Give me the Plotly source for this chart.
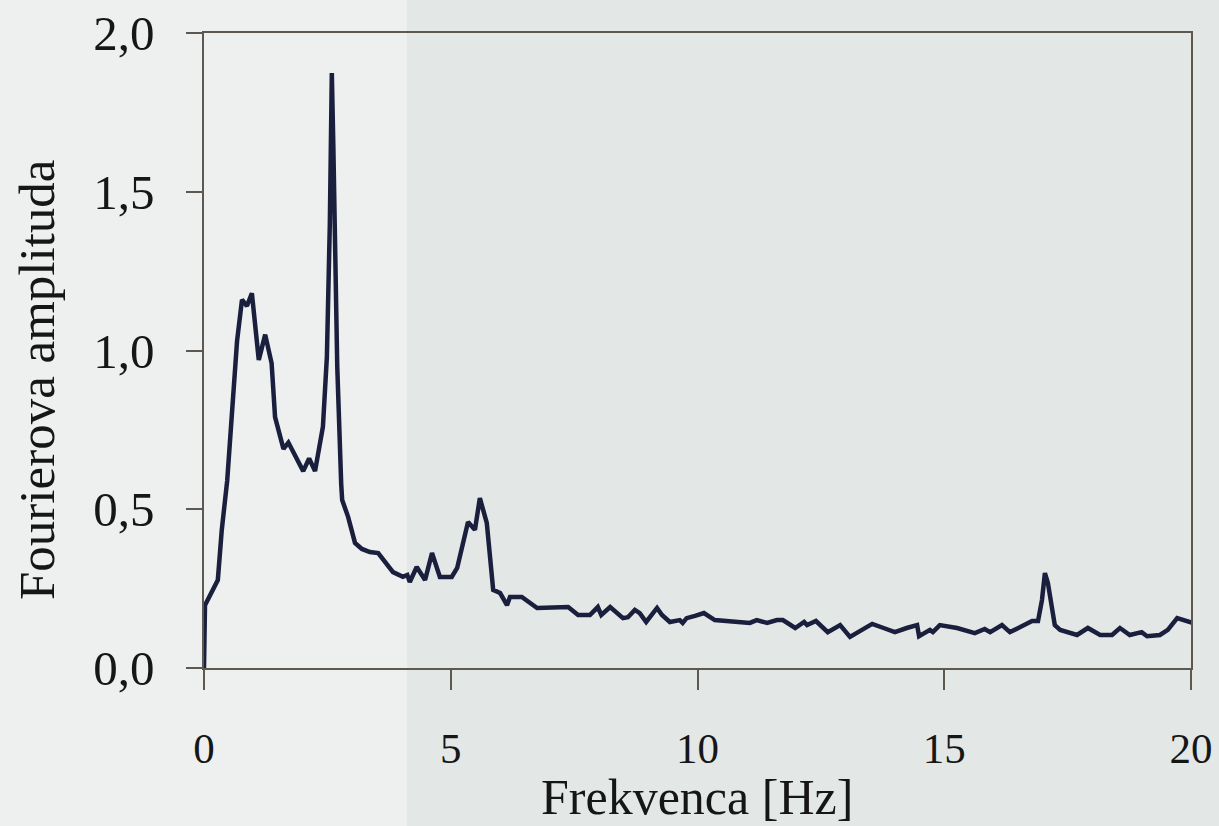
import plotly.graph_objects as go

# Frequency [Hz] and Fourier amplitude
freq = [0.0, 0.02, 0.28, 0.36, 0.47, 0.56, 0.67, 0.77, 0.87, 0.97, 1.0, 1.11, 1.24, 1.37, 1.44,
        1.61, 1.71, 2.01, 2.13, 2.25, 2.41, 2.49, 2.55, 2.59, 2.62, 2.65, 2.70, 2.78, 2.80, 2.92,
        3.06, 3.20, 3.36, 3.53, 3.83, 4.03, 4.12, 4.17, 4.31, 4.48, 4.62, 4.78, 5.02, 5.13, 5.35,
        5.49, 5.59, 5.73, 5.86, 6.00, 6.14, 6.20, 6.44, 6.75, 7.38, 7.58, 7.82, 7.98, 8.05, 8.23,
        8.39, 8.49, 8.59, 8.73, 8.83, 8.96, 9.18, 9.28, 9.44, 9.64, 9.70, 9.78, 9.95, 10.13, 10.35,
        10.72, 10.86, 11.06, 11.20, 11.41, 11.61, 11.73, 11.98, 12.16, 12.22, 12.40, 12.64, 12.89,
        13.09, 13.54, 13.77, 14.00, 14.24, 14.45, 14.49, 14.71, 14.77, 14.91, 15.26, 15.62, 15.82,
        15.93, 16.17, 16.33, 16.58, 16.78, 16.90, 16.98, 17.04, 17.10, 17.24, 17.35, 17.69, 17.91,
        18.16, 18.40, 18.56, 18.76, 19.00, 19.11, 19.37, 19.53, 19.72, 19.88, 20.04]
amp = [0.0, 0.198, 0.277, 0.435, 0.59, 0.81, 1.03, 1.16, 1.14, 1.18, 1.14, 0.97, 1.05, 0.96, 0.79,
       0.69, 0.71, 0.62, 0.66, 0.62, 0.76, 0.98, 1.40, 1.874, 1.65, 1.30, 0.95, 0.58, 0.529, 0.476,
       0.394, 0.375, 0.365, 0.362, 0.302, 0.287, 0.293, 0.271, 0.318, 0.277, 0.362, 0.287, 0.287,
       0.315, 0.46, 0.435, 0.535, 0.457, 0.246, 0.236, 0.198, 0.224, 0.224, 0.189, 0.192, 0.167,
       0.167, 0.192, 0.167, 0.192, 0.173, 0.157, 0.160, 0.183, 0.173, 0.145, 0.189, 0.167, 0.145,
       0.151, 0.142, 0.157, 0.164, 0.173, 0.151, 0.145, 0.142, 0.142, 0.151, 0.142, 0.151, 0.151,
       0.126, 0.145, 0.135, 0.148, 0.113, 0.135, 0.098, 0.139, 0.126, 0.113, 0.126, 0.135, 0.100,
       0.120, 0.113, 0.135, 0.126, 0.110, 0.123, 0.113, 0.135, 0.113, 0.132, 0.148, 0.148, 0.214,
       0.299, 0.268, 0.135, 0.120, 0.104, 0.126, 0.104, 0.104, 0.126, 0.104, 0.113, 0.100, 0.104,
       0.120, 0.157, 0.148, 0.142]

x_tickvals = [0, 5, 10, 15, 20]
x_ticktext = ["0", "5", "10", "15", "20"]
y_tickvals = [0.0, 0.5, 1.0, 1.5, 2.0]
y_ticktext = ["0,0", "0,5", "1,0", "1,5", "2,0"]

W, H = 1219, 826
L, R, T, B = 204, 28, 33, 158
pw = W - L - R
ph = H - T - B

fig = go.Figure()
fig.add_trace(go.Scatter(x=freq, y=amp, mode="lines",
                         line=dict(color="#1b1f3e", width=4.5), hoverinfo="skip",
                         showlegend=False, cliponaxis=False))

font_fam = "Liberation Serif, Times New Roman, serif"
axis_col = "#5d5852"
txt_col = "#161616"

fig.update_layout(
    width=W, height=H,
    margin=dict(l=L, r=R, t=T, b=B, autoexpand=False),
    paper_bgcolor="#edf0ee",
    plot_bgcolor="rgba(0,0,0,0)",
    font=dict(family=font_fam, color=txt_col),
    xaxis=dict(range=[0, 20], tickvals=x_tickvals, ticktext=x_ticktext, automargin=False,
               showgrid=False, zeroline=False, showline=True, linecolor=axis_col,
               linewidth=1.5, mirror=True, ticks="outside", ticklen=20, tickwidth=1.5,
               tickcolor=axis_col, tickfont=dict(size=43, family=font_fam, color=txt_col),
               ticklabelstandoff=22),
    yaxis=dict(range=[0, 2.0], tickvals=y_tickvals, ticktext=y_ticktext, automargin=False,
               showgrid=False, zeroline=False, showline=True, linecolor=axis_col,
               linewidth=1.5, mirror=True, ticks="outside", ticklen=16, tickwidth=1.5,
               tickcolor=axis_col, tickfont=dict(size=49, family=font_fam, color=txt_col),
               ticklabelstandoff=22),
    shapes=[dict(type="rect", xref="paper", yref="paper",
                 x0=(407 - L) / pw, x1=(W - L) / pw, y0=-B / ph, y1=(H - B) / ph + 0.0,
                 fillcolor="#e3e8e6", line=dict(width=0), layer="below")],
    annotations=[
        dict(text="Frekvenca [Hz]", xref="paper", yref="paper",
             x=(697 - L) / pw, y=(H - B - 797) / ph,
             showarrow=False, xanchor="center", yanchor="middle",
             font=dict(size=50, family=font_fam, color=txt_col)),
        dict(text="Fourierova amplituda", xref="paper", yref="paper",
             x=(37 - L) / pw, y=(H - B - 380) / ph, textangle=-90,
             showarrow=False, xanchor="center", yanchor="middle",
             font=dict(size=51, family=font_fam, color=txt_col)),
    ],
)

fig.write_html("out.html")
